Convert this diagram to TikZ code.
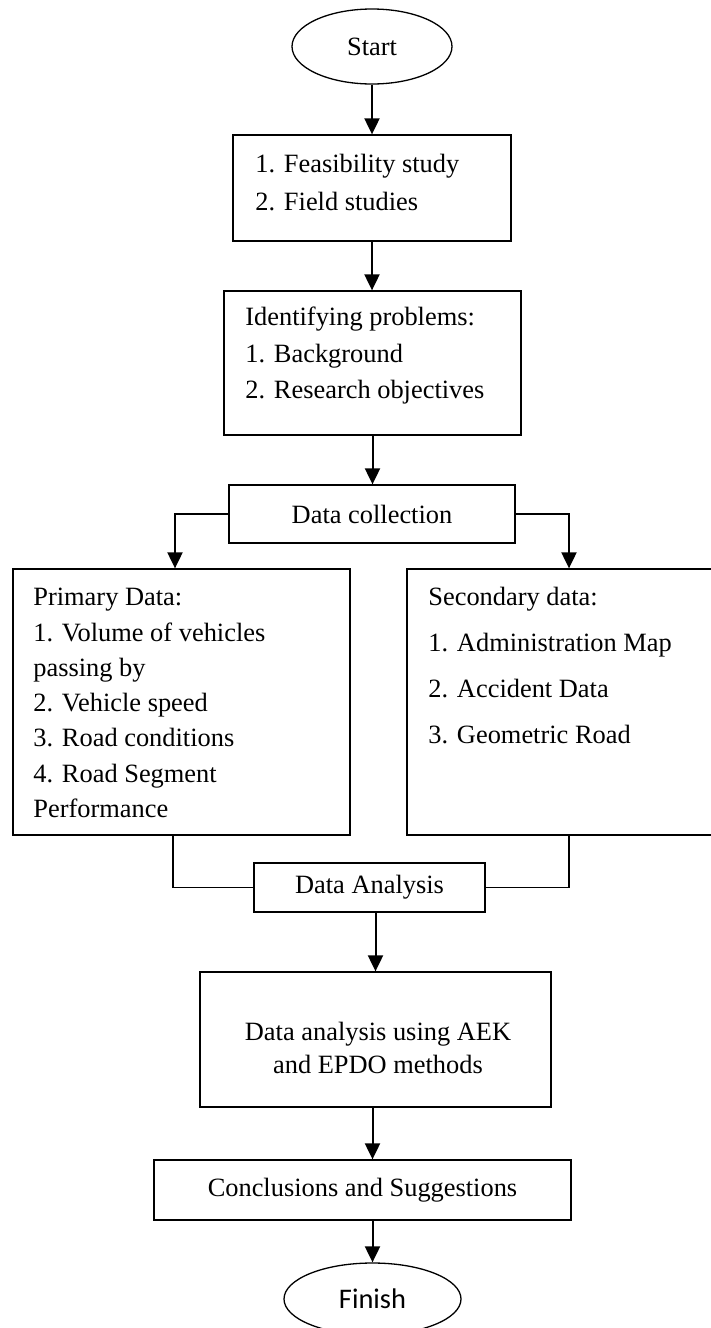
\documentclass[tikz,border=0pt]{standalone}
\usepackage{fontspec}
\setmainfont{Liberation Serif}
\newfontfamily\finishfont{Carlito}
\usetikzlibrary{shapes.geometric,arrows.meta}

\begin{document}
\begin{tikzpicture}[x=0.5pt,y=-0.5pt,
  box/.style={draw, line width=0.65pt, inner sep=0pt, font=\fontsize{13.2}{16}\selectfont},
  oval/.style={draw, ellipse, line width=0.65pt, inner sep=0pt},
  txt/.style={inner sep=0pt, align=left},
  arr/.style={-{Triangle[length=8pt,width=7.5pt]}, line width=1pt},
  link/.style={line width=0.75pt}]
\clip (0,0) rectangle (711,1328);

% Awal
\node[oval, minimum width=80pt, minimum height=37.5pt, font=\fontsize{13.2}{16}\selectfont] (start) at (372,46.5) {Start};

% Studi kelayakan
\node[box, minimum width=139pt, minimum height=53pt] (feas) at (372,188) {};
\node[txt, anchor=west, font=\fontsize{13.2}{19}\selectfont] (feastxt) at (255,183) {1. Feasibility study\\2. Field studies};

% Identifikasi masalah
\node[box, minimum width=148.5pt, minimum height=72pt] (prob) at (372.5,363) {};
\node[txt, anchor=west, font=\fontsize{13.2}{18.25}\selectfont] (probtxt) at (245,356) {Identifying problems:\\1. Background\\2. Research objectives};

% Pengumpulan data
\node[box, minimum width=143pt, minimum height=29pt] (collect) at (372,514) {Data collection};

% Data primer
\node[box, minimum width=168.5pt, minimum height=133pt] (prim) at (181.5,702) {};
\node[txt, anchor=west, font=\fontsize{13.2}{17.65}\selectfont] (primtxt) at (33,703) {Primary Data:\\1. Volume of vehicles\\passing by\\2. Vehicle speed\\3. Road conditions\\4. Road Segment\\Performance};

% Data sekunder
\node[box, minimum width=162pt, minimum height=133pt] (sec) at (569,702) {};
\node[txt, anchor=west, font=\fontsize{13.2}{23}\selectfont] (sectxt) at (428,666) {Secondary data:\\1. Administration Map\\2. Accident Data\\3. Geometric Road};

% Analisis
\node[box, minimum width=115.5pt, minimum height=24.5pt] (anal) at (369.5,887.5) {Data Analysis};

\node[box, minimum width=175.5pt, minimum height=67.5pt] (meth) at (375.5,1039.5) {};
\node[txt, align=center, font=\fontsize{13.2}{16.5}\selectfont] (methtxt) at (378,1048) {Data analysis using AEK\\and EPDO methods};

% Kesimpulan
\node[box, minimum width=208.5pt, minimum height=30pt] (concl) at (362.5,1190) {Conclusions and Suggestions};

% Selesai
\node[oval, minimum width=88.5pt, minimum height=36pt, font=\finishfont\fontsize{14.2}{17}\selectfont] (finish) at (372.5,1299) {Finish};

% Panah
\draw[arr] (start.south) -- (start.south |- feas.north);
\draw[arr] (feas.south) -- (feas.south |- prob.north);
\draw[arr] (prob.south) -- (prob.south |- collect.north);
\draw[arr] (collect.west) -| ([xshift=-3.25pt]prim.north);
\draw[arr] (collect.east) -| (sec.north);
\draw[link] ([xshift=-4.25pt]prim.south) |- (anal.west);
\draw[link] (sec.south) |- (anal.east);
\draw[arr] (meth.north |- anal.south) -- (meth.north);
\draw[arr] (finish.north |- meth.south) -- (finish.north |- concl.north);
\draw[arr] (finish.north |- concl.south) -- (finish.north);
\end{tikzpicture}
\end{document}
